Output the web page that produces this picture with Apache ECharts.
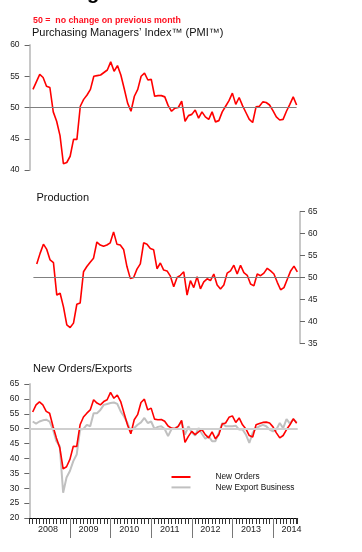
<!DOCTYPE html>
<html><head><meta charset="utf-8">
<script src="https://cdn.jsdelivr.net/npm/echarts@6/dist/echarts.min.js"></script>
<style>html,body{margin:0;padding:0;background:#fff}#c{width:362px;height:552px}</style>
</head><body><div id="c"></div>
<script>
// ---- data (monthly, Jan 2008 - Jul 2014) ----
const years = ['2008','2009','2010','2011','2012','2013','2014'];
const months = [];
for (let y = 2008; y <= 2014; y++) for (let m = 1; m <= 12; m++) { if (months.length < 79) months.push(y + '-' + String(m).padStart(2,'0')); }

const pmi = [52.9,54.1,55.3,54.8,53.4,53.2,49.3,47.8,45.5,41.0,
  41.2,42.2,44.9,44.9,50.2,51.3,52.0,52.9,55.0,55.1,
  55.2,55.6,56.0,57.3,55.8,56.7,55.2,53.0,50.7,49.4,
  51.8,52.9,55.0,55.5,54.4,54.5,51.8,51.9,51.9,51.7,
  50.3,49.4,49.9,50.0,51.0,47.8,48.7,48.9,49.6,48.3,
  49.3,48.5,48.1,49.3,47.7,47.9,49.3,50.2,51.1,52.3,
  50.5,51.6,50.3,49.2,48.1,47.6,50.1,50.2,50.9,50.8,
  50.4,49.5,48.5,48.0,48.1,49.4,50.5,51.7,50.4];

const production = [53.1,55.5,57.6,56.4,54.0,53.4,46.0,46.4,43.3,39.2,
  38.6,39.6,43.9,44.2,51.3,52.5,53.5,54.4,58.1,57.4,
  57.1,57.4,57.9,60.4,57.6,57.4,56.4,52.5,49.8,50.0,
  51.9,53.1,57.9,57.6,56.6,56.3,52.0,53.3,51.7,51.5,
  50.3,47.9,50.0,50.5,51.3,46.0,49.3,47.7,50.2,47.4,
  49.0,49.7,49.3,50.8,48.3,47.4,48.3,51.0,51.5,52.8,
  50.8,52.8,51.1,50.5,48.5,48.1,50.8,50.4,51.0,52.1,
  51.5,50.8,48.9,47.2,47.7,49.6,51.5,52.6,51.3];

const newOrders = [55.6,58.0,59.0,58.0,55.8,55.2,50.8,46.9,43.6,36.5,
  37.2,39.7,44.1,44.0,51.3,53.9,55.2,56.3,59.7,58.6,
  58.0,59.1,59.7,62.2,60.2,61.3,59.1,55.2,51.3,48.3,
  53.0,54.7,58.8,59.9,56.3,56.9,53.2,53.0,53.1,52.5,
  50.9,50.2,50.0,50.8,52.8,45.4,47.4,49.1,48.0,48.9,
  49.7,48.0,46.9,48.9,46.6,48.0,51.6,51.9,53.8,54.3,
  52.1,53.6,51.3,49.9,47.7,47.2,51.3,51.7,52.1,52.2,
  51.9,50.6,48.6,46.9,47.7,49.7,51.3,53.3,51.8];

const newExports = [52.4,51.7,52.4,52.8,53.0,52.4,49.7,45.8,44.1,28.5,
  33.6,35.8,39.1,41.3,49.7,49.9,51.3,50.8,55.2,55.2,
  56.3,58.0,58.3,58.6,58.8,58.3,55.8,54.1,51.9,49.1,
  50.2,51.3,52.1,53.6,51.9,52.4,49.9,50.6,50.8,49.9,
  47.5,49.8,50.2,50.8,52.4,48.0,50.8,48.8,47.7,50.2,
  48.3,46.6,47.4,45.8,45.8,48.6,51.9,50.8,50.8,50.8,
  51.0,49.7,49.7,48.0,45.2,48.6,50.2,50.8,51.3,50.8,
  49.7,49.1,49.7,51.9,50.2,53.2,51.7,53.2,52.1];

const pmiTicks = [40, 60, 5];
const prodTicks = [35, 65, 5];
const ordTicks = [20, 65, 5];
const noChange = 50;

// ---- chart ----
const F = '"Liberation Sans", Arial, sans-serif';
const pts = arr => arr.map((v, i) => [i + 1, v]);
const yearTicks = years.map((y, k) => 12 * k).filter(v => v > 0);
const yearLabelPos = years.map((y, k) => 12 * k + 5.5);

function yAx(gi, t, pos, margin, colorFn) {
  return {
    gridIndex: gi, type: 'value', min: t[0], max: t[1], interval: t[2], position: pos,
    axisLine: { show: true, onZero: false, lineStyle: { color: '#c8c8c8', width: 2 } },
    axisTick: { show: true, inside: false, length: 5, lineStyle: { color: '#666', width: 1 } },
    axisLabel: { fontSize: 8.5, fontFamily: F, color: colorFn || '#222', margin: margin },
    splitLine: { show: false }
  };
}
const ml = (color, width) => ({ silent: true, symbol: 'none', label: { show: false },
  lineStyle: { color: color, width: width, type: 'solid' }, data: [{ yAxis: noChange }] });

const chart = echarts.init(document.getElementById('c'));
chart.setOption({
  animation: false,
  textStyle: { fontFamily: F },
  title: [
    { text: 'g', left: 87, top: -17, padding: 0,
      textStyle: { fontSize: 20, fontWeight: 'bold', color: '#000', fontFamily: F } },
    { text: '50 =  no change on previous month', left: 33, top: 16, padding: 0,
      textStyle: { fontSize: 8.8, fontWeight: 'bold', color: '#ff1020', fontFamily: F } },
    { text: 'Purchasing Managers\u2019 Index\u2122 (PMI\u2122)', left: 32, top: 27, padding: 0,
      textStyle: { fontSize: 11, fontWeight: 'normal', color: '#111', fontFamily: F } },
    { text: 'Production', left: 36.5, top: 192.5, padding: 0,
      textStyle: { fontSize: 11, fontWeight: 'normal', color: '#111', fontFamily: F } },
    { text: 'New Orders/Exports', left: 33, top: 363.5, padding: 0,
      textStyle: { fontSize: 11, fontWeight: 'normal', color: '#111', fontFamily: F } }
  ],
  grid: [
    { left: 29.6, top: 45, width: 267, height: 125 },
    { left: 33.4, top: 211.7, width: 266.6, height: 131.6 },
    { left: 29.3, top: 384, width: 268.4, height: 134 }
  ],
  xAxis: [
    { gridIndex: 0, type: 'value', min: 0, max: 79, show: false },
    { gridIndex: 1, type: 'value', min: 0, max: 79.8, show: false },
    { gridIndex: 2, type: 'value', min: 0, max: 79.3, interval: 1, position: 'bottom',
      axisLine: { show: true, onZero: false, lineStyle: { color: '#000', width: 1 } },
      axisTick: { show: true, length: 6, lineStyle: { color: '#333', width: 1 } },
      axisLabel: { show: false }, splitLine: { show: false } },
    { gridIndex: 2, type: 'value', min: 0, max: 79.3, position: 'bottom', offset: 0,
      axisLine: { show: false, onZero: false },
      axisTick: { show: true, customValues: yearTicks, length: 20, lineStyle: { color: '#777', width: 1 } },
      axisLabel: { show: true, customValues: yearLabelPos, margin: 7, fontSize: 9, color: '#222', fontFamily: F,
        formatter: v => years[Math.round((v - 5.5) / 12)] },
      splitLine: { show: false } }
  ],
  yAxis: [
    yAx(0, pmiTicks, 'left', 10),
    yAx(1, prodTicks, 'right', 8),
    yAx(2, ordTicks, 'left', 10, (v) => (v === 20 ? '#e8e8e8' : '#222'))
  ],
  legend: {
    orient: 'vertical', left: 171.5, top: 472, padding: 0, itemGap: 0.4,
    itemWidth: 19, itemHeight: 2, icon: 'rect', selectedMode: false,
    data: ['New Orders', 'New Export Business'],
    textStyle: { fontSize: 8.3, color: '#111', fontFamily: F, lineHeight: 10, padding: [0, 0, 0, 20] }
  },
  series: [
    { name: 'PMI', type: 'line', xAxisIndex: 0, yAxisIndex: 0, data: pts(pmi), symbol: 'none',
      color: '#ff0000', lineStyle: { color: '#ff0000', width: 1.6 }, markLine: ml('#808080', 1), z: 3 },
    { name: 'Production', type: 'line', xAxisIndex: 1, yAxisIndex: 1, data: pts(production), symbol: 'none',
      color: '#ff0000', lineStyle: { color: '#ff0000', width: 1.6 }, markLine: ml('#808080', 1), z: 3 },
    { name: 'New Export Business', type: 'line', xAxisIndex: 2, yAxisIndex: 2, data: pts(newExports), symbol: 'none',
      color: '#c0c0c0', lineStyle: { color: '#c0c0c0', width: 2 }, markLine: ml('#cfcfcf', 2), z: 3 },
    { name: 'New Orders', type: 'line', xAxisIndex: 2, yAxisIndex: 2, data: pts(newOrders), symbol: 'none',
      color: '#ff0000', lineStyle: { color: '#ff0000', width: 1.6 }, z: 4 }
  ]
});
</script>
</body></html>
